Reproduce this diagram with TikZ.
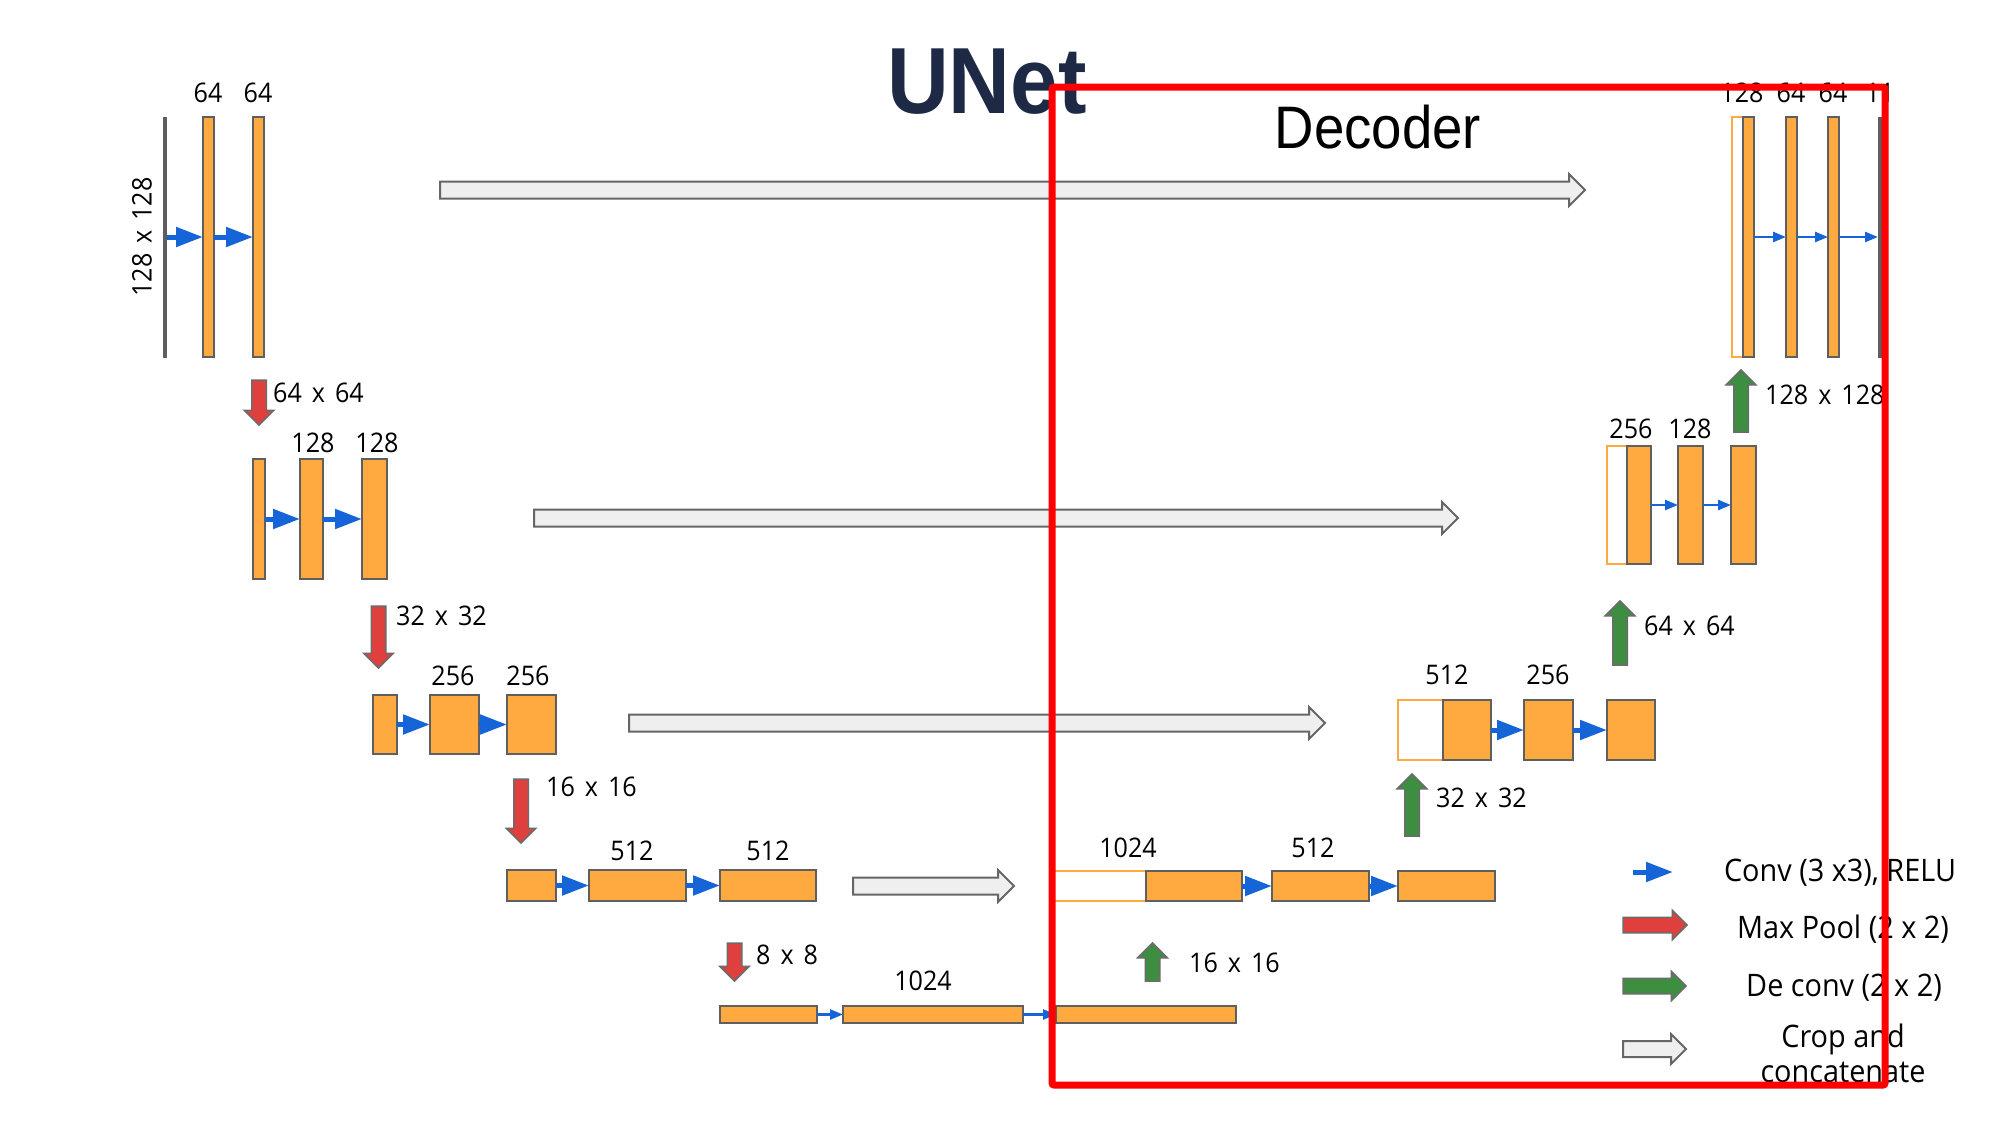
\documentclass[tikz,border=0pt]{standalone}
\usepackage{fontspec}
\setmainfont{Open Sans}[FakeStretch=0.93]
\newfontfamily\headfont{Liberation Sans}[FakeStretch=0.91]
\usetikzlibrary{arrows.meta,shapes.arrows}
\definecolor{barfill}{HTML}{FFAA40}
\definecolor{barline}{HTML}{5F5F5F}
\definecolor{sidegray}{HTML}{5E5E5E}
\definecolor{convblue}{HTML}{1565D8}
\definecolor{poolred}{HTML}{E0403D}
\definecolor{upgreen}{HTML}{3E8E41}
\definecolor{arrline}{HTML}{6B6B6B}
\definecolor{cropfill}{HTML}{EFEFEF}
\definecolor{cropline}{HTML}{666666}
\definecolor{framered}{HTML}{FF0000}
\definecolor{titleblue}{HTML}{1E2A45}
\newcommand\lblfont{\fontsize{27}{30}\selectfont\spaceskip=10pt\relax}

\begin{document}
\begin{tikzpicture}[x=1pt, y=-1pt,
  bar/.style={draw=barline, line width=2pt, fill=barfill, inner sep=0pt, outer sep=0pt},
  copybar/.style={draw=barfill, line width=2pt, fill=white, inner sep=0pt, outer sep=0pt},
  sideline/.style={fill=sidegray, inner sep=0pt, outer sep=0pt, minimum width=4pt, minimum height=241pt},
  lbl/.style={font=\lblfont, inner sep=0pt},
  keytext/.style={font=\fontsize{31}{35}\selectfont, inner sep=0pt, align=center},
  conv/.style={-{Triangle[length=27pt,width=19pt]}, line width=5pt, draw=convblue},
  convthin/.style={-{Triangle[length=13pt,width=10pt]}, line width=2.5pt, draw=convblue},
  fat/.style={single arrow, draw=arrline, line width=1.5pt, inner xsep=0pt, inner ysep=6.5pt, outer sep=0pt,
    single arrow head extend=7.5pt, single arrow tip angle=90, minimum width=0pt, anchor=tail},
  pool/.style={fat, fill=poolred, shape border rotate=270, inner xsep=6.5pt, inner ysep=0pt},
  upconv/.style={fat, fill=upgreen, shape border rotate=90, inner xsep=6.5pt, inner ysep=0pt},
  crop/.style={fat, fill=cropfill, draw=cropline, line width=2pt, inner ysep=7.5pt},
]
\fill[white] (0,0) rectangle (2000,1125);
\useasboundingbox (0,0) rectangle (2000,1125);

\node[font=\headfont\bfseries\fontsize{94}{94}\selectfont, text=titleblue, inner sep=0pt] (title) at (987,82) {UNet};
\node[font=\headfont\fontsize{60}{60}\selectfont, inner sep=0pt] (decoder) at (1378,127) {Decoder};

% encoder
\node[sideline] (in1) at (165,237) {};
\node[bar, minimum width=11pt, minimum height=240pt] (e1a) at (208.5,237) {};
\node[bar, minimum width=11pt, minimum height=240pt] (e1b) at (258.5,237) {};
\node[lbl] (n1a) at (208,93) {64};
\node[lbl] (n1b) at (258,93) {64};
\node[lbl, rotate=90] (s1) at (142,237) {128 x 128};
\draw[conv] (in1.east) -- (e1a.west);
\draw[conv] (e1a.east) -- (e1b.west);

\node[pool, minimum height=45pt] (p1) at (259,380) {};
\node[lbl, anchor=west] (s2) at (273,393) {64 x 64};

\node[bar, minimum width=12pt, minimum height=120pt] (e2i) at (259,519) {};
\node[bar, minimum width=23pt, minimum height=120pt] (e2a) at (311.5,519) {};
\node[bar, minimum width=25pt, minimum height=120pt] (e2b) at (374.5,519) {};
\node[lbl] (n2a) at (313,443) {128};
\node[lbl] (n2b) at (377,443) {128};
\draw[conv] (e2i.east) -- (e2a.west);
\draw[conv] (e2a.east) -- (e2b.west);

\node[pool, minimum height=62pt] (p2) at (378.5,606) {};
\node[lbl, anchor=west] (s3) at (396,616) {32 x 32};

\node[bar, minimum width=24pt, minimum height=59pt] (e3i) at (385,724.5) {};
\node[bar, minimum width=49pt, minimum height=59pt] (e3a) at (454.5,724.5) {};
\node[bar, minimum width=49pt, minimum height=59pt] (e3b) at (531.5,724.5) {};
\node[lbl] (n3a) at (453,676) {256};
\node[lbl] (n3b) at (528,676) {256};
\draw[conv] (e3i.east) -- (e3a.west);
\draw[conv] (e3a.east) -- (e3b.west);

\node[pool, minimum height=64pt] (p3) at (521,779) {};
\node[lbl, anchor=west] (s4) at (546,787) {16 x 16};

\node[bar, minimum width=49pt, minimum height=31pt] (e4i) at (531.5,885.5) {};
\node[bar, minimum width=97pt, minimum height=31pt] (e4a) at (637.5,885.5) {};
\node[bar, minimum width=96pt, minimum height=31pt] (e4b) at (768,885.5) {};
\node[lbl] (n4a) at (632,851) {512};
\node[lbl] (n4b) at (768,851) {512};
\draw[conv] (e4i.east) -- (e4a.west);
\draw[conv] (e4a.east) -- (e4b.west);

\node[pool, minimum height=38pt] (p4) at (734.5,943) {};
\node[lbl, anchor=west] (s5) at (756,955) {8 x 8};

% bottom
\node[bar, minimum width=97pt, minimum height=17pt] (e5i) at (768.5,1014.5) {};
\node[bar, minimum width=180pt, minimum height=17pt] (e5a) at (933,1014.5) {};
\node[bar, minimum width=180pt, minimum height=17pt] (e5b) at (1146,1014.5) {};
\node[lbl] (n5a) at (923,981) {1024};
\draw[convthin] (e5i.east) -- (e5a.west);
\draw[convthin] (e5a.east) -- (e5b.west);

\node[upconv, minimum height=38pt] (u1) at (1152.5,981) {};
\node[lbl, anchor=west] (s6) at (1189,963) {16 x 16};

% decoder
\node[copybar, minimum width=96pt, minimum height=30pt] (d4c) at (1098,886) {};
\node[bar, minimum width=96pt, minimum height=30pt] (d4u) at (1194,886) {};
\node[bar, minimum width=97pt, minimum height=30pt] (d4a) at (1320.5,886) {};
\node[bar, minimum width=97pt, minimum height=30pt] (d4b) at (1446.5,886) {};
\node[lbl] (m4a) at (1128,848) {1024};
\node[lbl] (m4b) at (1313,848) {512};
\draw[conv] (d4u.east) -- (d4a.west);
\draw[conv] (d4a.east) -- (d4b.west);

\node[upconv, minimum height=62pt] (u2) at (1412,836) {};
\node[lbl, anchor=west] (s7) at (1436,798) {32 x 32};

\node[copybar, minimum width=45pt, minimum height=60pt] (d3c) at (1420.5,730) {};
\node[bar, minimum width=48pt, minimum height=60pt] (d3u) at (1467,730) {};
\node[bar, minimum width=49pt, minimum height=60pt] (d3a) at (1548.5,730) {};
\node[bar, minimum width=48pt, minimum height=60pt] (d3b) at (1631,730) {};
\node[lbl] (m3a) at (1447,675) {512};
\node[lbl] (m3b) at (1548,675) {256};
\draw[conv] (d3u.east) -- (d3a.west);
\draw[conv] (d3a.east) -- (d3b.west);

\node[upconv, minimum height=64pt] (u3) at (1620,665) {};
\node[lbl, anchor=west] (s8) at (1644,626) {64 x 64};

\node[copybar, minimum width=20pt, minimum height=118pt] (d2c) at (1617,505) {};
\node[bar, minimum width=24pt, minimum height=118pt] (d2u) at (1639,505) {};
\node[bar, minimum width=25pt, minimum height=118pt] (d2a) at (1690.5,505) {};
\node[bar, minimum width=25pt, minimum height=118pt] (d2b) at (1743.5,505) {};
\node[lbl] (m2a) at (1631,429) {256};
\node[lbl] (m2b) at (1690,429) {128};
\draw[convthin] (d2u.east) -- (d2a.west);
\draw[convthin] (d2a.east) -- (d2b.west);

\node[upconv, minimum height=62pt] (u4) at (1741,432) {};
\node[lbl, anchor=west] (s9) at (1765,395) {128 x 128};

\node[copybar, minimum width=11pt, minimum height=240pt] (d1c) at (1737.5,237) {};
\node[bar, minimum width=11pt, minimum height=240pt] (d1u) at (1748.5,237) {};
\node[bar, minimum width=11pt, minimum height=240pt] (d1a) at (1791.5,237) {};
\node[bar, minimum width=11pt, minimum height=240pt] (d1b) at (1833.5,237) {};
\node[sideline] (out1) at (1880,237) {};
\node[lbl] (m1a) at (1742,93) {128};
\node[lbl] (m1b) at (1791,93) {64};
\node[lbl] (m1c) at (1833,93) {64};
\node[lbl] (m1d) at (1880,93) {11};
\draw[convthin] (d1u.east) -- (d1a.west);
\draw[convthin] (d1a.east) -- (d1b.west);
\draw[convthin] (d1b.east) -- (out1.west);

% skip connections
\node[crop, minimum height=1145pt] (c1) at (440,190) {};
\node[crop, minimum height=924pt] (c2) at (534,518) {};
\node[crop, minimum height=696pt] (c3) at (629,723) {};
\node[crop, minimum height=161pt] (c4) at (853,886) {};

% legend
\coordinate (k1) at (1633,872);
\coordinate (k2) at (1673,872);
\draw[conv] (k1) -- (k2);
\node[fat, fill=poolred, minimum height=64pt, inner ysep=7pt, single arrow head extend=7pt] (kpool) at (1623,925) {};
\node[fat, fill=upgreen, minimum height=63pt, inner ysep=7pt, single arrow head extend=7pt] (kup) at (1623,986) {};
\node[crop, minimum height=63pt, inner ysep=7pt, single arrow head extend=7pt] (kcrop) at (1623,1049) {};
\node[keytext] (t1) at (1840,873) {Conv (3 x3), RELU};
\node[keytext] (t2) at (1843,929) {Max Pool (2 x 2)};
\node[keytext] (t3) at (1844,988) {De conv (2 x 2)};
\node[keytext] (t4) at (1843,1053) {Crop and\\concatenate};

\draw[framered, line width=7pt, rounded corners=2pt] (1052,87) rectangle (1885,1085);
\end{tikzpicture}
\end{document}
